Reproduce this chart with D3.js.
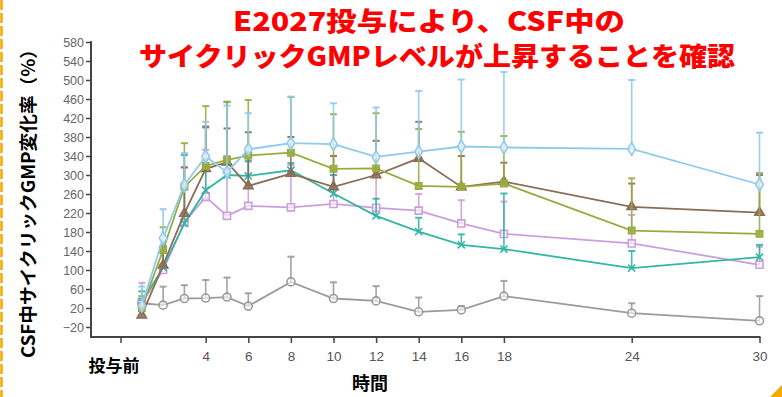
<!DOCTYPE html>
<html><head><meta charset="utf-8">
<script src="https://cdn.jsdelivr.net/npm/d3@7"></script>
<style>body{margin:0;background:#fff}svg{display:block}</style>
</head><body><svg id="c" width="782" height="397"></svg>
<script>
const hours = [1,2,3,4,5,6,8,10,12,14,16,18,24,30];
const xTicks = [0,4,6,8,10,12,14,16,18,24,30];
const yTicks = d3.range(-20, 581, 40);
const titleLines = ["E2027投与により、CSF中の", "サイクリックGMPレベルが上昇することを確認"];
const yLabel = "CSF中サイクリックGMP変化率（%）";
const xLabel = "時間";
const preLabel = "投与前";

const grayVals   = [30,26,40,41,43,24,75,40,35,12,16,45,9,-7];
const grayTop    = [45,65,68,79,84,51,128,74,66,42,24,77,30,45];
const blueVals   = [25,167,279,339,306,354,367,365,338,349,360,358,355,280];
const blueTop    = [65,228,346,412,446,430,465,451,442,477,501,517,500,389];
const oliveVals  = [20,142,275,319,332,341,347,313,314,277,275,282,183,176];
const oliveTop   = [40,190,367,445,454,458,464,428,430,397,391,382,293,304];
const brownVals  = [5,110,219,313,327,277,303,275,300,335,275,286,233,221];
const brownTop   = [30,150,316,402,398,390,380,340,372,412,340,326,282,300];
const tealVals   = [33,105,198,268,300,298,310,261,214,181,153,144,104,127];
const tealTop    = [55,150,342,400,454,330,325,300,250,210,175,261,140,153];
const purpleVals = [30,100,200,254,214,235,232,239,231,225,198,176,156,111];
const purpleTop  = [73,140,316,353,340,328,321,300,314,260,247,244,216,149];

const series = [
  {vals: grayVals,   top: grayTop,   color: "#9b9b9b", sym: d3.symbolCircle,   fill: "none"},
  {vals: purpleVals, top: purpleTop, color: "#cc9fdc", sym: d3.symbolSquare,   fill: "none"},
  {vals: tealVals,   top: tealTop,   color: "#35b5a4", sym: d3.symbolX,        fill: "none"},
  {vals: brownVals,  top: brownTop,  color: "#8b6d57", sym: d3.symbolTriangle, fill: "#8b6d57"},
  {vals: oliveVals,  top: oliveTop,  color: "#9aab3e", sym: d3.symbolSquare,   fill: "#9aab3e"},
  {vals: blueVals,   top: blueTop,   color: "#8fcaee", sym: d3.symbolDiamond,  fill: "none"}
];

const svg = d3.select("#c");
const x = d3.scaleLinear().domain([0,30]).range([120.5,759.5]);
const y = d3.scaleLinear().domain([-20,580]).range([327,42]);
const axisX = 91, axisY = 337;

// orange dashed frame fragments
svg.append("line").attr("x1",1.5).attr("x2",1.5).attr("y1",0).attr("y2",397)
  .attr("stroke","#f5a800").attr("stroke-width",2.5).attr("stroke-dasharray","10,3");
svg.append("path").attr("d","M770,397 L782,385 L782,397 Z").attr("fill","#f5a800");

// title
svg.append("text").attr("x",429).attr("y",31).attr("text-anchor","middle")
  .attr("font-family","'Noto Sans CJK JP'").attr("font-weight","900").attr("font-size",26)
  .attr("fill","#ff0000").attr("textLength",392).attr("lengthAdjust","spacingAndGlyphs").text(titleLines[0]);
svg.append("text").attr("x",437).attr("y",66).attr("text-anchor","middle")
  .attr("font-family","'Noto Sans CJK JP'").attr("font-weight","900").attr("font-size",26)
  .attr("fill","#ff0000").attr("textLength",596).attr("lengthAdjust","spacingAndGlyphs").text(titleLines[1]);

// y axis
const gy = svg.append("g").attr("transform",`translate(${axisX},0)`)
  .call(d3.axisLeft(y).tickValues(yTicks).tickSize(5).tickPadding(2).tickFormat(d => d < 0 ? "−" + Math.abs(d) : d));
gy.select(".domain").remove();
gy.selectAll(".tick line").attr("stroke","#444").attr("stroke-width",1.5);
gy.selectAll(".tick text").attr("font-family","'Liberation Sans', Arial, sans-serif").attr("font-size",12.5).attr("fill","#666");
svg.append("line").attr("x1",axisX).attr("x2",axisX).attr("y1",41).attr("y2",axisY+1)
  .attr("stroke","#444").attr("stroke-width",2);

// x axis
const gx = svg.append("g").attr("transform",`translate(0,${axisY})`)
  .call(d3.axisBottom(x).tickValues(xTicks).tickSize(6).tickPadding(8).tickFormat(d => d === 0 ? "" : d));
gx.select(".domain").remove();
gx.selectAll(".tick line").attr("stroke","#444").attr("stroke-width",1.5);
gx.selectAll(".tick text").attr("font-family","'Liberation Sans', Arial, sans-serif").attr("font-size",13.5).attr("fill","#555");
svg.append("line").attr("x1",axisX).attr("x2",x(30)+1).attr("y1",axisY).attr("y2",axisY)
  .attr("stroke","#444").attr("stroke-width",2);

// axis labels
svg.append("text").attr("x",114).attr("y",372).attr("text-anchor","middle")
  .attr("font-family","'Noto Sans CJK JP'").attr("font-weight","bold").attr("font-size",17).attr("fill","#000").text(preLabel);
svg.append("text").attr("x",370).attr("y",390).attr("text-anchor","middle")
  .attr("font-family","'Noto Sans CJK JP'").attr("font-weight","bold").attr("font-size",18).attr("fill","#000").text(xLabel);
svg.append("text").attr("transform","translate(35,199) rotate(-90)").attr("text-anchor","middle")
  .attr("font-family","'Noto Sans CJK JP'").attr("font-weight","bold").attr("font-size",18).attr("fill","#000")
  .attr("textLength",318).attr("lengthAdjust","spacingAndGlyphs").text(yLabel);

// series
const line = d3.line().x((d,i) => x(hours[i])).y(d => y(d));
series.forEach(s => {
  const g = svg.append("g");
  s.top.forEach((t,i) => {
    const cx = x(hours[i]);
    g.append("line").attr("x1",cx).attr("x2",cx).attr("y1",y(s.vals[i])).attr("y2",y(t))
      .attr("stroke",s.color).attr("stroke-width",1.6).attr("opacity",0.9);
    g.append("line").attr("x1",cx-3.5).attr("x2",cx+3.5).attr("y1",y(t)).attr("y2",y(t))
      .attr("stroke",s.color).attr("stroke-width",2).attr("opacity",0.9);
  });
  g.append("path").datum(s.vals).attr("d",line).attr("fill","none")
    .attr("stroke",s.color).attr("stroke-width",1.8);
  const sz = s.sym === d3.symbolX ? 35 : (s.sym === d3.symbolTriangle ? 38 : (s.fill === "none" ? 50 : 40));
  const sym = d3.symbol().type(s.sym).size(sz);
  g.selectAll("path.m").data(s.vals).enter().append("path").attr("class","m")
    .attr("transform",(d,i) => `translate(${x(hours[i])},${y(d)})`)
    .attr("d",sym())
    .attr("fill", s.fill === "none" ? "#fff" : s.fill)
    .attr("fill-opacity", s.fill === "none" ? 0.6 : 0.85)
    .attr("stroke",s.color).attr("stroke-width",1.6);
});
</script></body></html>
